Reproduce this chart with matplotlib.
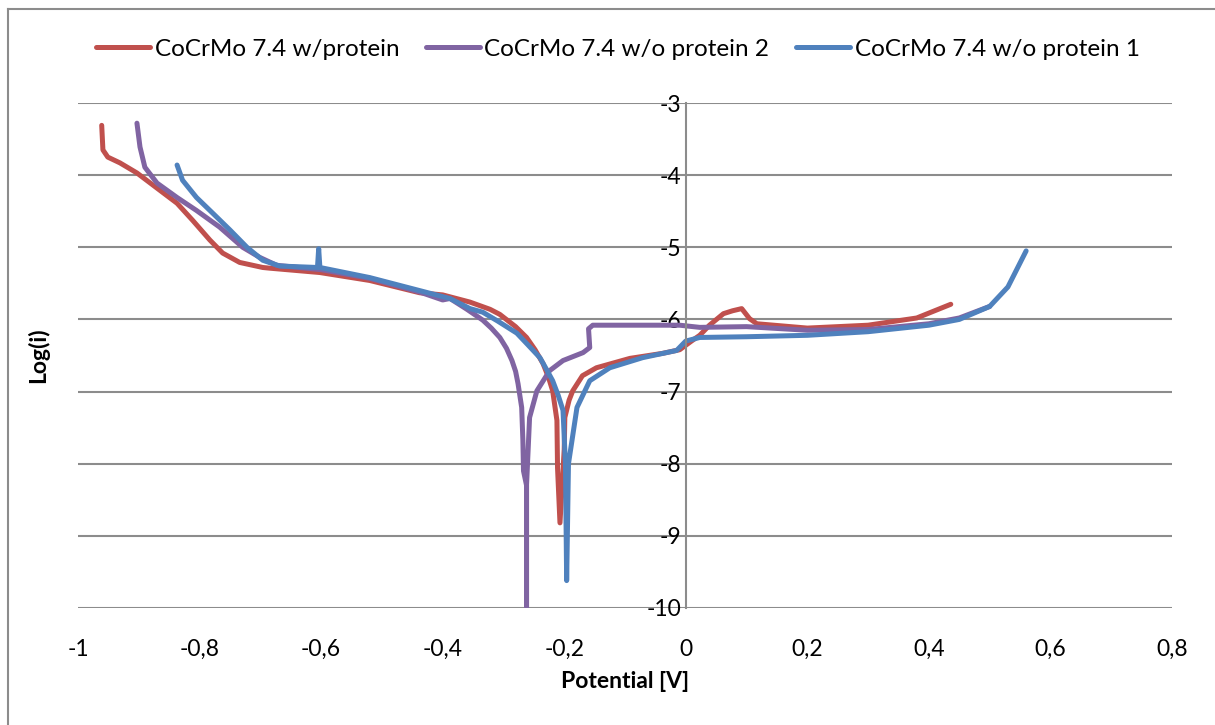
import matplotlib
matplotlib.use("Agg")
import matplotlib.pyplot as plt
from matplotlib.lines import Line2D
from matplotlib.ticker import FuncFormatter
import numpy as np

plt.rcParams['font.family'] = ['Lato', 'DejaVu Sans']

# --- data (potential [V], log(i)) ---
series_names = ["CoCrMo 7.4 w/protein", "CoCrMo 7.4 w/o protein 2", "CoCrMo 7.4 w/o protein 1"]

red_x = [-0.961, -0.959, -0.951, -0.931, -0.903, -0.870, -0.837, -0.811, -0.783, -0.762, -0.734, -0.696,
         -0.684, -0.602, -0.520, -0.438, -0.400, -0.355, -0.322, -0.306, -0.280, -0.262, -0.248, -0.235,
         -0.226, -0.219, -0.212, -0.211, -0.207, -0.200, -0.199, -0.192, -0.186, -0.170, -0.147, -0.092,
         -0.038, -0.010, 0.011, 0.023, 0.039, 0.062, 0.077, 0.092, 0.105, 0.117, 0.200, 0.300, 0.380, 0.436]
red_y = [-3.31, -3.65, -3.75, -3.83, -3.97, -4.18, -4.39, -4.63, -4.90, -5.08, -5.21, -5.28,
         -5.29, -5.35, -5.46, -5.63, -5.66, -5.76, -5.86, -5.93, -6.10, -6.25, -6.42, -6.61,
         -6.80, -6.99, -7.40, -8.06, -8.82, -7.80, -7.36, -7.12, -6.99, -6.78, -6.67, -6.54,
         -6.47, -6.42, -6.29, -6.22, -6.08, -5.92, -5.88, -5.85, -5.99, -6.06, -6.12, -6.08, -5.98, -5.79]

purple_x = [-0.903, -0.898, -0.890, -0.870, -0.837, -0.805, -0.767, -0.729, -0.701, -0.673,
            -0.600, -0.520, -0.438, -0.400, -0.388, -0.360, -0.334, -0.320, -0.306, -0.295, -0.286,
            -0.280, -0.276, -0.270, -0.268, -0.267, -0.262, -0.262, -0.262, -0.257, -0.245, -0.224,
            -0.202, -0.169, -0.158, -0.160, -0.153, -0.010, 0.023, 0.100, 0.200, 0.300, 0.400,
            0.450, 0.500]
purple_y = [-3.28, -3.61, -3.89, -4.11, -4.31, -4.49, -4.72, -5.00, -5.14, -5.25,
            -5.31, -5.43, -5.62, -5.73, -5.71, -5.86, -6.01, -6.12, -6.25, -6.40, -6.57,
            -6.72, -6.89, -7.22, -7.68, -8.10, -8.30, -10.0, -8.30, -7.36, -6.99, -6.71,
            -6.57, -6.46, -6.39, -6.13, -6.08, -6.08, -6.11, -6.10, -6.15, -6.14, -6.06,
            -5.98, -5.82]

blue_x = [-0.837, -0.828, -0.805, -0.778, -0.750, -0.722, -0.696, -0.668, -0.606, -0.604, -0.602,
          -0.520, -0.438, -0.388, -0.355, -0.334, -0.310, -0.278, -0.260, -0.240, -0.230, -0.219,
          -0.210, -0.202, -0.198, -0.196, -0.193, -0.179, -0.158, -0.125, -0.071, -0.015, 0.000,
          0.023, 0.100, 0.200, 0.300, 0.400, 0.450, 0.500, 0.530, 0.560]
blue_y = [-3.86, -4.07, -4.31, -4.53, -4.76, -5.00, -5.18, -5.26, -5.28, -5.02, -5.28,
          -5.42, -5.60, -5.71, -5.85, -5.90, -6.02, -6.19, -6.35, -6.53, -6.68, -6.85,
          -7.05, -7.26, -8.00, -9.62, -8.00, -7.22, -6.85, -6.67, -6.53, -6.43, -6.30,
          -6.25, -6.24, -6.22, -6.17, -6.08, -6.00, -5.82, -5.55, -5.05]

colors = ["#C0504D", "#8064A2", "#4F81BD"]
x_ticks = [-1, -0.8, -0.6, -0.4, -0.2, 0, 0.2, 0.4, 0.6, 0.8]
y_ticks = [-10, -9, -8, -7, -6, -5, -4, -3]

grid_col = "#8c8c8c"
fs = 16.5

fig = plt.figure(figsize=(12.15, 7.25), dpi=100)
ax = fig.add_axes([78 / 1215, 1 - 608 / 725, (1172 - 78) / 1215, (608 - 103) / 725])

for xs, ys, c, name in zip([red_x, purple_x, blue_x], [red_y, purple_y, blue_y], colors, series_names):
    ax.plot(xs, ys, color=c, lw=3.6, label=name, solid_capstyle='round', solid_joinstyle='round')

ax.set_xlim(-1, 0.8)
ax.set_ylim(-10, -3)
ax.set_xticks(x_ticks)
ax.set_yticks(y_ticks)
comma = FuncFormatter(lambda v, p: ('%g' % round(v, 2)).replace('.', ','))
ax.xaxis.set_major_formatter(comma)
ax.yaxis.set_major_formatter(comma)
ax.tick_params(axis='both', length=0, labelsize=fs)
ax.tick_params(axis='x', pad=22)
ax.tick_params(axis='y', pad=3)

ax.yaxis.grid(True, color=grid_col, lw=1.5)
ax.set_axisbelow(True)
for s in ['top', 'right', 'bottom']:
    ax.spines[s].set_visible(False)
ax.spines['left'].set_position(('data', 0))
ax.spines['left'].set_color(grid_col)
ax.spines['left'].set_linewidth(1.5)

ax.set_xlabel("Potential [V]", fontsize=fs, fontweight='bold', labelpad=8)
fig.text(38 / 1215, 1 - 355 / 725, "Log(i)", fontsize=fs, fontweight='bold',
         rotation=90, ha='center', va='center')

ax.legend(loc='center', bbox_to_anchor=(618 / 1215, 1 - 49 / 725), bbox_transform=fig.transFigure,
          ncol=3, frameon=False, fontsize=17.5, handlelength=2.2, handletextpad=0.2,
          columnspacing=1.1)

# chart border (cropped at right and bottom)
fig.add_artist(Line2D([8 / 1215, 8 / 1215], [0, 1 - 9 / 725], color=grid_col, lw=1.5))
fig.add_artist(Line2D([8 / 1215, 1], [1 - 9 / 725, 1 - 9 / 725], color=grid_col, lw=1.5))

fig.savefig("out.png", dpi=100)
